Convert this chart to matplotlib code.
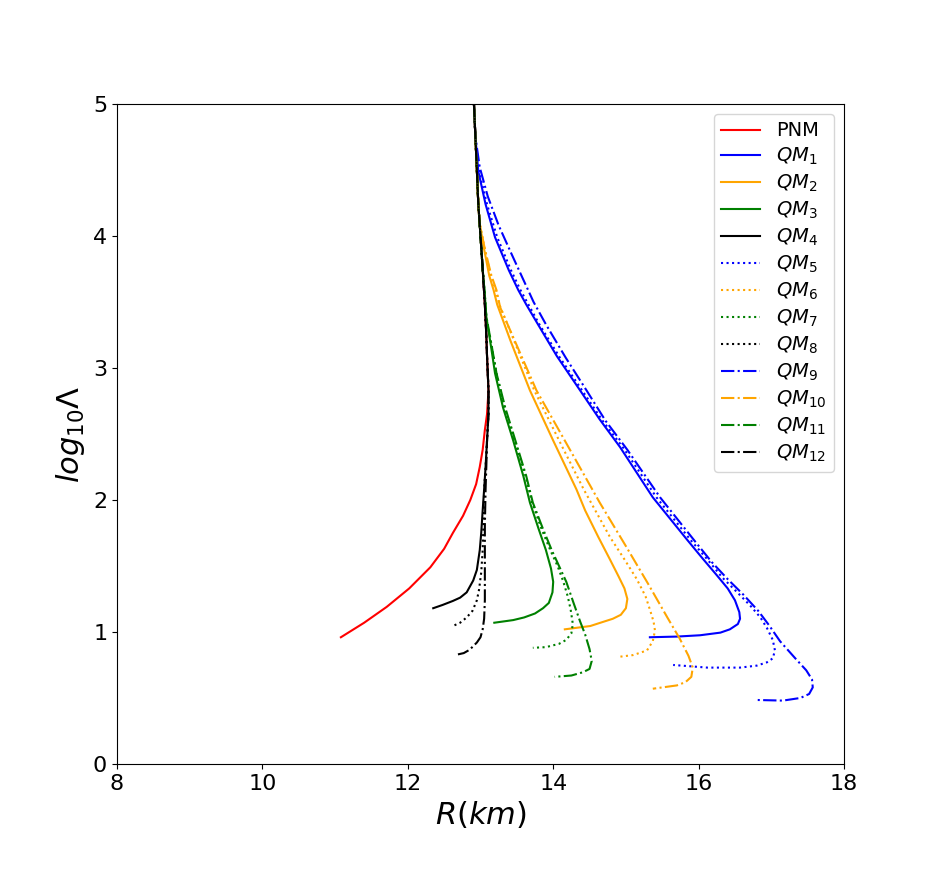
import matplotlib
matplotlib.use("Agg")
import matplotlib.pyplot as plt

# (R [km], log10 Lambda)
pnm_R = [12.91, 12.93, 12.95, 12.97, 13.00, 13.03, 13.06, 13.08, 13.09, 13.11, 13.09, 13.06, 13.03, 12.99, 12.94, 12.86, 12.76, 12.62, 12.50, 12.31, 12.02, 11.71, 11.40, 11.08]
pnm_L = [5.00, 4.75, 4.50, 4.24, 4.00, 3.75, 3.48, 3.25, 3.09, 2.83, 2.65, 2.53, 2.38, 2.25, 2.12, 2.00, 1.88, 1.75, 1.63, 1.49, 1.33, 1.19, 1.07, 0.96]

qm1_R = [12.91, 12.93, 12.97, 13.07, 13.20, 13.39, 13.52, 13.63, 13.78, 14.05, 14.37, 14.64, 14.92, 15.37, 15.84, 16.05, 16.25, 16.40, 16.50, 16.56, 16.57, 16.54, 16.43, 16.30, 16.02, 15.70, 15.33]
qm1_L = [5.00, 4.75, 4.49, 4.24, 3.99, 3.74, 3.59, 3.48, 3.34, 3.09, 2.83, 2.61, 2.40, 2.02, 1.70, 1.56, 1.43, 1.33, 1.24, 1.15, 1.10, 1.06, 1.02, 0.995, 0.975, 0.965, 0.96]

qm2_R = [12.91, 12.93, 12.95, 12.97, 12.99, 13.05, 13.12, 13.18, 13.23, 13.41, 13.68, 14.00, 14.32, 14.44, 14.62, 14.78, 14.90, 14.98, 15.02, 15.00, 14.93, 14.82, 14.65, 14.51, 14.16]
qm2_L = [5.00, 4.75, 4.50, 4.24, 4.09, 3.90, 3.70, 3.59, 3.48, 3.21, 2.83, 2.45, 2.08, 1.92, 1.72, 1.55, 1.42, 1.33, 1.25, 1.18, 1.13, 1.10, 1.07, 1.045, 1.02]

qm3_R = [12.91, 12.93, 12.95, 12.97, 13.00, 13.03, 13.06, 13.08, 13.14, 13.20, 13.31, 13.45, 13.59, 13.68, 13.80, 13.90, 13.97, 14.00, 13.99, 13.94, 13.86, 13.75, 13.60, 13.45, 13.19]
qm3_L = [5.00, 4.75, 4.50, 4.24, 4.00, 3.75, 3.55, 3.39, 3.18, 2.96, 2.70, 2.45, 2.18, 1.98, 1.78, 1.62, 1.48, 1.38, 1.30, 1.22, 1.18, 1.14, 1.11, 1.09, 1.07]

qm4_R = [12.91, 12.93, 12.95, 12.97, 13.00, 13.03, 13.06, 13.08, 13.09, 13.11, 13.11, 13.09, 13.07, 13.05, 13.03, 13.01, 12.99, 12.95, 12.90, 12.81, 12.72, 12.62, 12.48, 12.35]
qm4_L = [5.00, 4.75, 4.50, 4.24, 4.00, 3.75, 3.48, 3.25, 3.09, 2.83, 2.65, 2.45, 2.25, 2.08, 1.92, 1.75, 1.62, 1.47, 1.39, 1.30, 1.26, 1.235, 1.205, 1.18]

qm5_R = [12.91, 12.93, 12.98, 13.09, 13.23, 13.42, 13.55, 13.66, 13.81, 14.09, 14.41, 14.68, 14.97, 15.42, 15.90, 16.12, 16.33, 16.55, 16.71, 16.85, 16.94, 17.02, 17.05, 17.02, 16.94, 16.80, 16.57, 16.12, 15.65]
qm5_L = [5.00, 4.75, 4.49, 4.24, 3.99, 3.74, 3.59, 3.48, 3.33, 3.08, 2.82, 2.60, 2.39, 2.02, 1.69, 1.55, 1.41, 1.29, 1.20, 1.11, 1.03, 0.94, 0.86, 0.80, 0.77, 0.745, 0.73, 0.73, 0.75]

qm6_R = [12.91, 12.93, 12.95, 12.97, 12.99, 13.06, 13.14, 13.21, 13.26, 13.46, 13.74, 14.10, 14.42, 14.55, 14.78, 14.98, 15.15, 15.27, 15.33, 15.38, 15.40, 15.37, 15.29, 15.10, 14.88]
qm6_L = [5.00, 4.75, 4.50, 4.24, 4.09, 3.90, 3.70, 3.59, 3.48, 3.21, 2.83, 2.43, 2.08, 1.95, 1.72, 1.55, 1.40, 1.27, 1.17, 1.08, 1.01, 0.93, 0.86, 0.825, 0.81]

qm7_R = [12.91, 12.93, 12.95, 12.97, 13.00, 13.03, 13.06, 13.08, 13.15, 13.22, 13.33, 13.47, 13.62, 13.71, 13.84, 13.96, 14.06, 14.14, 14.20, 14.24, 14.27, 14.25, 14.18, 14.08, 13.90, 13.72]
qm7_L = [5.00, 4.75, 4.50, 4.24, 4.00, 3.75, 3.55, 3.39, 3.18, 2.96, 2.70, 2.45, 2.18, 1.98, 1.78, 1.62, 1.50, 1.38, 1.27, 1.17, 1.06, 0.99, 0.94, 0.91, 0.885, 0.88]

qm8_R = [12.91, 12.93, 12.95, 12.97, 13.00, 13.03, 13.06, 13.08, 13.09, 13.11, 13.11, 13.09, 13.07, 13.05, 13.04, 13.03, 13.01, 12.98, 12.95, 12.89, 12.81, 12.72, 12.62]
qm8_L = [5.00, 4.75, 4.50, 4.24, 4.00, 3.75, 3.48, 3.25, 3.09, 2.83, 2.65, 2.45, 2.25, 2.08, 1.80, 1.62, 1.45, 1.32, 1.24, 1.16, 1.11, 1.07, 1.045]

qm9_R = [12.91, 12.93, 12.99, 13.10, 13.25, 13.43, 13.58, 13.73, 13.90, 14.17, 14.47, 14.72, 15.02, 15.47, 15.96, 16.18, 16.40, 16.62, 16.82, 16.97, 17.12, 17.33, 17.48, 17.56, 17.57, 17.52, 17.40, 17.16, 16.78]
qm9_L = [5.00, 4.75, 4.52, 4.30, 4.08, 3.86, 3.68, 3.50, 3.33, 3.08, 2.82, 2.60, 2.38, 2.02, 1.68, 1.53, 1.40, 1.28, 1.16, 1.05, 0.93, 0.80, 0.71, 0.64, 0.58, 0.53, 0.50, 0.48, 0.485]

qm10_R = [12.91, 12.93, 12.95, 12.97, 12.99, 13.06, 13.15, 13.22, 13.27, 13.50, 13.77, 14.18, 14.64, 15.00, 15.30, 15.57, 15.74, 15.86, 15.92, 15.90, 15.82, 15.70, 15.37]
qm10_L = [5.00, 4.75, 4.50, 4.24, 4.09, 3.90, 3.70, 3.59, 3.46, 3.17, 2.83, 2.43, 1.98, 1.65, 1.37, 1.11, 0.95, 0.82, 0.73, 0.66, 0.62, 0.595, 0.57]

qm11_R = [12.91, 12.93, 12.95, 12.97, 13.00, 13.03, 13.06, 13.08, 13.15, 13.22, 13.34, 13.48, 13.63, 13.72, 13.86, 13.98, 14.08, 14.18, 14.28, 14.37, 14.44, 14.50, 14.53, 14.50, 14.41, 14.25, 14.02]
qm11_L = [5.00, 4.75, 4.50, 4.24, 4.00, 3.75, 3.55, 3.39, 3.18, 2.96, 2.70, 2.45, 2.18, 1.98, 1.78, 1.62, 1.50, 1.38, 1.22, 1.08, 0.98, 0.87, 0.78, 0.72, 0.695, 0.67, 0.66]

qm12_R = [12.91, 12.93, 12.95, 12.97, 13.00, 13.03, 13.06, 13.08, 13.09, 13.11, 13.11, 13.09, 13.08, 13.07, 13.06, 13.06, 13.06, 13.05, 13.03, 13.00, 12.95, 12.85, 12.77, 12.69]
qm12_L = [5.00, 4.75, 4.50, 4.24, 4.00, 3.75, 3.48, 3.25, 3.09, 2.83, 2.65, 2.45, 2.25, 2.08, 1.80, 1.50, 1.24, 1.10, 1.02, 0.96, 0.92, 0.865, 0.84, 0.83]

labels = ['PNM'] + [f'$QM_{{{i}}}$' for i in range(1, 13)]
series = [(pnm_R, pnm_L), (qm1_R, qm1_L), (qm2_R, qm2_L), (qm3_R, qm3_L), (qm4_R, qm4_L),
          (qm5_R, qm5_L), (qm6_R, qm6_L), (qm7_R, qm7_L), (qm8_R, qm8_L),
          (qm9_R, qm9_L), (qm10_R, qm10_L), (qm11_R, qm11_L), (qm12_R, qm12_L)]
colors = ['red'] + ['blue', 'orange', 'green', 'black'] * 3
styles = ['-'] + ['-'] * 4 + [':'] * 4 + ['-.'] * 4

fig = plt.figure(figsize=(9.38, 8.73), dpi=100)
ax = fig.add_axes([0.1247, 0.1249, 0.7751, 0.756])
for (R, L), c, ls, lab in zip(series, colors, styles, labels):
    ax.plot(R, L, color=c, linestyle=ls, label=lab, lw=1.5)

ax.set_xlim(8, 18)
ax.set_ylim(0, 5)
ax.set_xticks([8, 10, 12, 14, 16, 18])
ax.set_yticks([0, 1, 2, 3, 4, 5])
ax.tick_params(labelsize=16)
ax.set_xlabel('$R(km)$', fontsize=22)
ax.set_ylabel('$log_{10}\\Lambda$', fontsize=22)
ax.legend(loc='upper right', fontsize=14, labelspacing=0.29)
fig.savefig('out.png', dpi=100)
